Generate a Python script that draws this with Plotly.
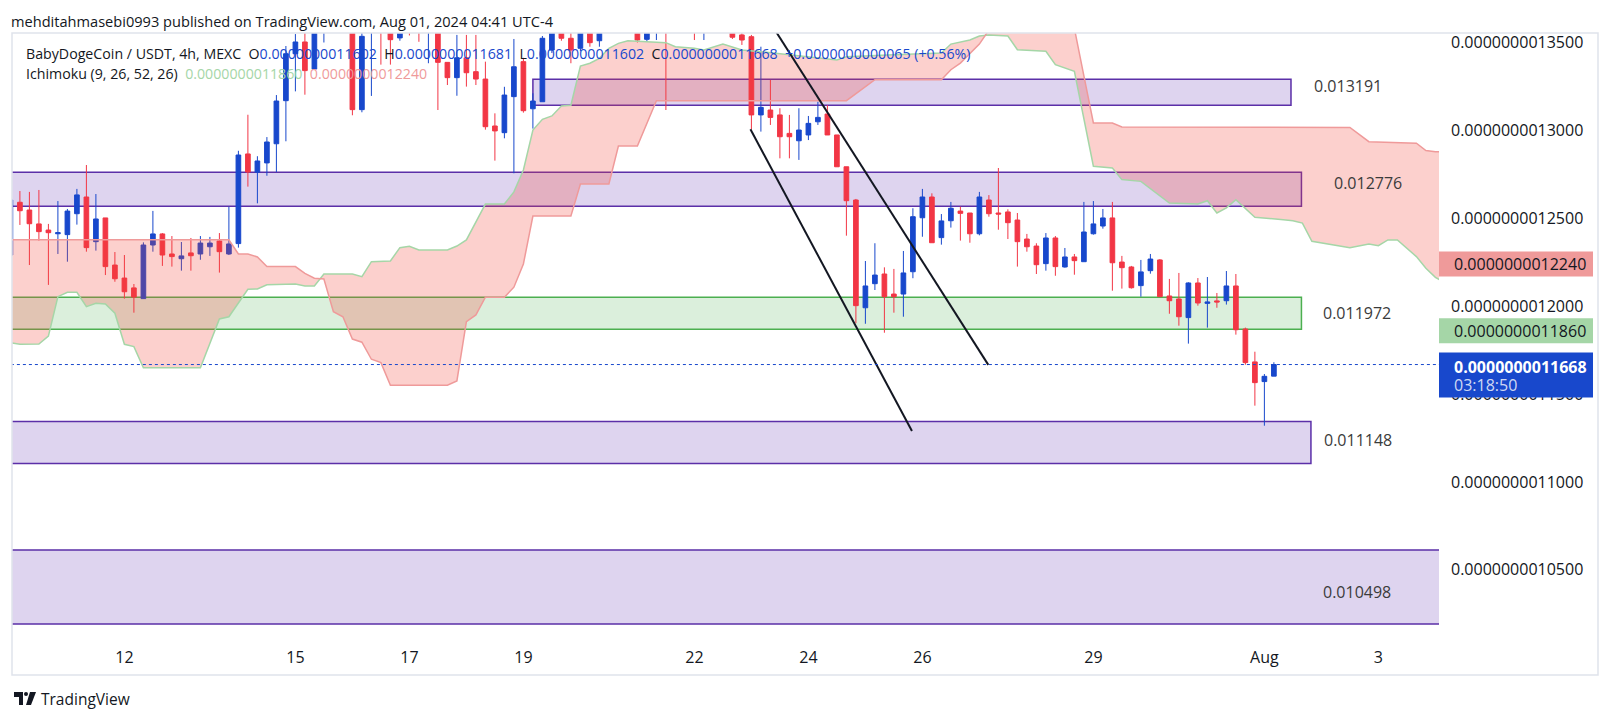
'''
    BabyDogeCoin / USDT 4h chart with Ichimoku cloud, zones and a falling channel.
'''
import pandas as pd
import plotly.graph_objects as go

# prices are kept in units of 1e-13 USDT, candles start Jul 10 2024 00:00 (4h each)
SCALE = 1e-13

opens = [12291, 12591, 12547, 12468, 12433, 12412, 12407, 12526, 12621, 12367,
         12502, 12234, 12160, 12104, 12043, 12348, 12411, 12297, 12270, 12303,
         12297, 12338, 12371, 12297, 12356, 12866, 12762, 12815, 12924, 13169,
         13436, 13503, 13349, 13580, 13650, 13720, 13600, 13118, 13600, 13690,
         13580, 13526, 13600, 13640, 13580, 13560, 13387, 13300, 13413, 13334,
         13292, 13025, 12987, 13192, 13391, 13123, 13163, 13457, 13600, 13524,
         13467, 13600, 13510, 13620, 13700, 13680, 13620, 13518, 13580, 13640,
         13600, 13650, 13700, 13620, 13660, 13700, 13640, 13543, 13533, 13088,
         13116, 13088, 12983, 12941, 12974, 13049, 13093, 12974, 12793, 12604,
         11991, 12128, 12183, 12069, 12069, 12196, 12503, 12621, 12390, 12486,
         12541, 12530, 12412, 12604, 12530, 12536, 12490, 12382, 12342, 12242,
         12388, 12223, 12280, 12253, 12412, 12456, 12502, 12251, 12223, 12117,
         12202, 12263, 12058, 12041, 11935, 12132, 12016, 12030, 12031, 12115,
         11870, 11683, 11571, 11602]
highs = [12615, 12655, 12650, 12661, 12468, 12598, 12553, 12667, 12803, 12638,
         12502, 12308, 12291, 12126, 12363, 12542, 12416, 12399, 12365, 12388,
         12399, 12394, 12416, 12566, 12884, 13089, 12853, 12962, 13201, 13480,
         13548, 13600, 13620, 13700, 13780, 13760, 13640, 13620, 13720, 13720,
         13620, 13600, 13620, 13660, 13660, 13580, 13387, 13543, 13543, 13543,
         13391, 13097, 13248, 13520, 13413, 13211, 13537, 13650, 13640, 13560,
         13660, 13630, 13650, 13760, 13780, 13720, 13650, 13630, 13660, 13680,
         13680, 13740, 13720, 13690, 13730, 13720, 13660, 13560, 13543, 13476,
         13287, 13126, 13088, 13126, 13082, 13163, 13144, 12974, 12793, 12610,
         12257, 12358, 12221, 12212, 12314, 12557, 12667, 12642, 12524, 12593,
         12566, 12530, 12650, 12632, 12786, 12551, 12530, 12411, 12358, 12416,
         12399, 12331, 12297, 12593, 12598, 12553, 12593, 12286, 12229, 12263,
         12297, 12268, 12155, 12189, 12136, 12160, 12166, 12075, 12200, 12183,
         11878, 11741, 11614, 11681]
lows = [12280, 12462, 12234, 12373, 12121, 12297, 12253, 12464, 12310, 12316,
        12177, 12139, 12043, 11963, 12043, 12310, 12229, 12225, 12202, 12202,
        12264, 12286, 12191, 12291, 12333, 12680, 12585, 12742, 12763, 12938,
        13222, 13203, 13346, 13500, 13600, 13560, 13086, 13103, 13196, 13374,
        13374, 13510, 13540, 13504, 13382, 13116, 13258, 13197, 13249, 13258,
        13004, 12828, 12955, 12756, 13101, 13010, 13163, 13440, 13510, 13382,
        13450, 13476, 13476, 13600, 13640, 13590, 13500, 13505, 13514, 13116,
        13555, 13620, 13514, 13514, 13630, 13610, 13520, 13486, 13006, 12993,
        13031, 12841, 12841, 12832, 12945, 13031, 12974, 12793, 12401, 11903,
        11900, 12092, 11849, 11963, 11940, 12159, 12395, 12361, 12350, 12447,
        12373, 12361, 12403, 12509, 12435, 12382, 12225, 12310, 12183, 12202,
        12173, 12219, 12179, 12253, 12407, 12441, 12088, 12100, 12100, 12054,
        12185, 12054, 11957, 11889, 11787, 12003, 11878, 11991, 12009, 11838,
        11667, 11434, 11320, 11602]
closes = [12604, 12543, 12469, 12424, 12418, 12418, 12541, 12633, 12333, 12496,
          12225, 12156, 12082, 12052, 12348, 12411, 12291, 12282, 12286, 12287,
          12359, 12359, 12310, 12354, 12860, 12763, 12826, 12934, 13167, 13436,
          13503, 13340, 13580, 13650, 13720, 13600, 13118, 13535, 13690, 13620,
          13516, 13580, 13560, 13590, 13640, 13387, 13300, 13413, 13328, 13292,
          13021, 12997, 13201, 13362, 13112, 13167, 13524, 13600, 13524, 13457,
          13620, 13499, 13620, 13700, 13680, 13620, 13514, 13600, 13640, 13600,
          13650, 13700, 13620, 13660, 13700, 13640, 13530, 13514, 13088, 13131,
          13074, 12964, 12964, 13002, 13040, 13074, 12974, 12793, 12600, 12003,
          12115, 12177, 12054, 12054, 12189, 12509, 12621, 12361, 12485, 12557,
          12528, 12412, 12621, 12526, 12524, 12475, 12367, 12338, 12236, 12388,
          12225, 12280, 12259, 12422, 12468, 12502, 12247, 12219, 12105, 12195,
          12268, 12054, 12031, 11940, 12132, 12018, 12024, 12024, 12115, 11866,
          11679, 11565, 11601, 11668]
last_change = 65
last_change_pct = 0.56

# Ichimoku leading spans (already shifted 26 bars forward), candle index -> value
span_a_idx = [-1, 1, 3, 4, 5, 6, 7, 8, 9, 10, 11, 12, 13, 14, 20, 21, 22, 23, 24, 25,
              26, 27, 30, 31, 32, 33, 36, 37, 38, 40, 41, 42, 43, 46, 47, 48, 50, 52, 53, 54,
              55, 56, 57, 58, 59, 60, 61, 62, 63, 64, 65, 69, 70, 72, 73, 75, 77, 79, 87, 88,
              93, 98, 99, 101, 102, 103, 105, 106, 109, 110, 112, 114, 116, 117, 119, 122, 125, 126, 127, 128,
              129, 131, 134, 135, 136, 137, 141, 143, 144, 145, 146, 147, 148, 149, 150, 152]
span_a_val = [11802, 11783, 11785, 11830, 12054, 12079, 12079, 11997, 12016, 12013, 11960, 11783, 11770, 11650, 11650, 11789, 11927, 11940, 12016, 12096,
              12098, 12122, 12126, 12115, 12115, 12183, 12183, 12168, 12253, 12257, 12333, 12341, 12320, 12320, 12342, 12377, 12581, 12581, 12650, 12775,
              13002, 13063, 13082, 13139, 13143, 13366, 13382, 13410, 13467, 13495, 13510, 13499, 13476, 13467, 13457, 13491, 13457, 13448, 13400, 13419,
              13430, 13440, 13491, 13514, 13537, 13543, 13537, 13459, 13450, 13374, 13336, 12796, 12786, 12720, 12710, 12587, 12581, 12600, 12530, 12559,
              12606, 12506, 12492, 12486, 12473, 12369, 12333, 12354, 12344, 12377, 12377, 12329, 12282, 12216, 12164, 12100]
span_b_idx = [-1, 23, 24, 25, 26, 27, 30, 31, 32, 33, 34, 35, 36, 37, 38, 39, 40, 46, 47, 48,
              49, 50, 52, 53, 54, 55, 59, 60, 63, 64, 66, 68, 88, 91, 98, 99, 100, 102, 103, 104,
              111, 112, 113, 114, 116, 117, 141, 143, 148, 149, 150, 152]
span_b_val = [12378, 12378, 12297, 12297, 12280, 12225, 12225, 12187, 12159, 12155, 11969, 11940, 11813, 11795, 11698, 11679, 11550, 11550, 11575, 11912,
              11950, 12051, 12051, 12108, 12240, 12513, 12513, 12695, 12695, 12911, 12911, 13169, 13169, 13288, 13288, 13345, 13383, 13491, 13571, 13650,
              13700, 13580, 13310, 13042, 13042, 13019, 13017, 12936, 12927, 12885, 12879, 12879]
span_a_now = 11860
span_b_now = 12240

# horizontal zones drawn on the chart
zone_top = [13291, 12762, 12051, 11344, 10613]
zone_bottom = [13143, 12568, 11869, 11105, 10192]
zone_start = [55, -20, -20, -20, -20]
zone_end = [134.8, 135.9, 135.9, 136.9, 170]
zone_kind = ['purple', 'purple', 'green', 'purple', 'purple']
zone_text = ['0.013191', '0.012776', '0.011972', '0.011148', '0.010498']
zone_text_idx = [140.8, 142.9, 141.8, 141.9, 141.7]
zone_text_val = [13252, 12702, 11964, 11239, 10374]

# falling channel
channel_upper_idx = [79.5, 102.94]
channel_upper_val = [13654, 11666]
channel_lower_idx = [77.9, 94.9]
channel_lower_val = [13006, 11290]

day_ticks = ['2024-07-10', '2024-07-12', '2024-07-15', '2024-07-17', '2024-07-19', '2024-07-22',
             '2024-07-24', '2024-07-26', '2024-07-29', '2024-08-01', '2024-08-03']
day_labels = ['10', '12', '15', '17', '19', '22', '24', '26', '29', 'Aug', '3']
price_ticks = [10500, 11000, 11500, 12000, 12500, 13000, 13500]
countdown = '03:18:50'

START = pd.Timestamp('2024-07-10 00:00')
STEP = pd.Timedelta(hours=4)

UP = '#1848CC'
DOWN = '#F23645'
TEXT = '#131722'
FONT = 'Open Sans'

# pixel box of the plot area inside the 1612x720 page
PX_L, PX_R, PX_T, PX_B = 12, 1439, 33, 640
Y_LO, Y_HI = 10101, 13554


def t(i):
    return START + STEP * i


def fmt(v):
    return f'{v * SCALE:.13f}'


def paper_x(px):
    return (px - PX_L) / (PX_R - PX_L)


def paper_y(py):
    return (PX_B - py) / (PX_B - PX_T)


def val_y(v):
    return (v - Y_LO) / (Y_HI - Y_LO)


def blue(s):
    return f'<span style="color:{UP}">{s}</span>'


fig = go.Figure()

# Ichimoku cloud
fig.add_trace(go.Scatter(
    x=[t(i) for i in span_a_idx], y=[v * SCALE for v in span_a_val],
    mode='lines', line=dict(color='#A5D6A7', width=1.5), hoverinfo='skip'))
fig.add_trace(go.Scatter(
    x=[t(i) for i in span_b_idx], y=[v * SCALE for v in span_b_val],
    mode='lines', line=dict(color='#EF9A9A', width=1.5), hoverinfo='skip',
    fill='tonexty', fillcolor='rgba(244,67,54,0.25)'))

fig.add_trace(go.Candlestick(
    x=[t(i) for i in range(len(opens))],
    open=[v * SCALE for v in opens], high=[v * SCALE for v in highs],
    low=[v * SCALE for v in lows], close=[v * SCALE for v in closes],
    increasing=dict(line=dict(color=UP, width=1), fillcolor=UP),
    decreasing=dict(line=dict(color=DOWN, width=1), fillcolor=DOWN),
    whiskerwidth=0, hoverinfo='skip'))

for idx, val in ((channel_upper_idx, channel_upper_val), (channel_lower_idx, channel_lower_val)):
    fig.add_trace(go.Scatter(
        x=[t(i) for i in idx], y=[v * SCALE for v in val],
        mode='lines', line=dict(color=TEXT, width=2), hoverinfo='skip'))

# last price dotted line
fig.add_trace(go.Scatter(
    x=[t(-5), t(170)], y=[closes[-1] * SCALE] * 2, mode='lines',
    line=dict(color=UP, width=1, dash='dot'), hoverinfo='skip'))

shapes = []
for k in range(len(zone_top)):
    if zone_kind[k] == 'green':
        fill, edge = 'rgba(76,175,80,0.2)', '#4CAF50'
    else:
        fill, edge = 'rgba(103,58,183,0.22)', '#5B2FA8'
    shapes.append(dict(
        type='rect', xref='x', yref='y', layer='below',
        x0=t(zone_start[k]), x1=t(zone_end[k]),
        y0=zone_bottom[k] * SCALE, y1=zone_top[k] * SCALE,
        fillcolor=fill, line=dict(color=edge, width=1.5)))

# price tags on the right axis
tag_x0, tag_x1 = paper_x(1439), paper_x(1593)
half = 12.5 / (PX_B - PX_T)
for v, color in ((span_b_now, '#EF9A9A'), (span_a_now, '#A5D6A7')):
    shapes.append(dict(type='rect', xref='paper', yref='paper', layer='above',
                       x0=tag_x0, x1=tag_x1, y0=val_y(v) - half, y1=val_y(v) + half,
                       fillcolor=color, line=dict(width=0)))
last_y = val_y(closes[-1])
shapes.append(dict(type='rect', xref='paper', yref='paper', layer='above',
                   x0=tag_x0, x1=tag_x1,
                   y0=last_y - 33 / (PX_B - PX_T), y1=last_y + 12 / (PX_B - PX_T),
                   fillcolor=UP, line=dict(width=0)))

# pane border
shapes.append(dict(type='rect', xref='paper', yref='paper', layer='above',
                   x0=paper_x(12), x1=paper_x(1598), y0=paper_y(675), y1=paper_y(33),
                   line=dict(color='#E0E3EB', width=1.5)))

# TradingView logo
shapes.append(dict(type='rect', xref='paper', yref='paper', layer='above',
                   x0=paper_x(14), x1=paper_x(23), y0=paper_y(697), y1=paper_y(692),
                   fillcolor=TEXT, line=dict(width=0)))
shapes.append(dict(type='rect', xref='paper', yref='paper', layer='above',
                   x0=paper_x(19), x1=paper_x(23), y0=paper_y(705), y1=paper_y(692),
                   fillcolor=TEXT, line=dict(width=0)))
shapes.append(dict(type='circle', xref='paper', yref='paper', layer='above',
                   x0=paper_x(24), x1=paper_x(28), y0=paper_y(696), y1=paper_y(692),
                   fillcolor=TEXT, line=dict(width=0)))
shapes.append(dict(type='path', xref='paper', yref='paper', layer='above',
                   path=(f'M {paper_x(30)} {paper_y(692)} L {paper_x(36)} {paper_y(692)} '
                         f'L {paper_x(31)} {paper_y(705)} L {paper_x(26)} {paper_y(705)} Z'),
                   fillcolor=TEXT, line=dict(width=0)))

annotations = []
for k in range(len(zone_text)):
    annotations.append(dict(
        x=t(zone_text_idx[k]), y=zone_text_val[k] * SCALE, xref='x', yref='y',
        text=zone_text[k], showarrow=False, xanchor='center', yanchor='middle',
        font=dict(family=FONT, size=16, color='#3B3B3B')))

for v in (span_b_now, span_a_now):
    annotations.append(dict(
        x=paper_x(1452), y=val_y(v), xref='paper', yref='paper', text=fmt(v),
        showarrow=False, xanchor='left', yanchor='middle',
        font=dict(family=FONT, size=16, color=TEXT)))
annotations.append(dict(
    x=paper_x(1452), y=paper_y(366.5), xref='paper', yref='paper',
    text=f'<b>{fmt(closes[-1])}</b>', showarrow=False, xanchor='left', yanchor='middle',
    font=dict(family=FONT, size=16, color='white')))
annotations.append(dict(
    x=paper_x(1452), y=paper_y(385.5), xref='paper', yref='paper',
    text=countdown, showarrow=False, xanchor='left', yanchor='middle',
    font=dict(family=FONT, size=16, color='rgba(255,255,255,0.8)')))

sp = '\u00a0\u00a0'
line1 = ('BabyDogeCoin / USDT, 4h, MEXC' + sp
         + 'O' + blue(fmt(opens[-1])) + sp
         + 'H' + blue(fmt(highs[-1])) + sp
         + 'L' + blue(fmt(lows[-1])) + sp
         + 'C' + blue(fmt(closes[-1])) + sp
         + blue(f'+{fmt(last_change)} (+{last_change_pct:.2f}%)'))
line2 = ('Ichimoku (9, 26, 52, 26)' + sp
         + f'<span style="color:#A5D6A7">{fmt(span_a_now)}</span>' + sp
         + f'<span style="color:#EF9A9A">{fmt(span_b_now)}</span>')
annotations.append(dict(x=paper_x(24), y=paper_y(53.5), xref='paper', yref='paper',
                        text=line1, showarrow=False, xanchor='left', yanchor='middle',
                        font=dict(family=FONT, size=14.2, color=TEXT)))
annotations.append(dict(x=paper_x(24), y=paper_y(74), xref='paper', yref='paper',
                        text=line2, showarrow=False, xanchor='left', yanchor='middle',
                        font=dict(family=FONT, size=14.2, color=TEXT)))

annotations.append(dict(
    x=paper_x(9), y=paper_y(20.5), xref='paper', yref='paper',
    text='mehditahmasebi0993 published on TradingView.com, Aug 01, 2024 04:41 UTC-4',
    showarrow=False, xanchor='left', yanchor='middle',
    font=dict(family=FONT, size=14.6, color=TEXT)))
annotations.append(dict(
    x=paper_x(39), y=paper_y(698.5), xref='paper', yref='paper', text='TradingView',
    showarrow=False, xanchor='left', yanchor='middle',
    font=dict(family=FONT, size=15.5, color=TEXT)))

fig.update_layout(
    width=1612, height=720,
    margin=dict(l=PX_L, r=1612 - PX_R, t=PX_T, b=720 - PX_B, autoexpand=False),
    paper_bgcolor='white', plot_bgcolor='white',
    showlegend=False,
    shapes=shapes, annotations=annotations,
    font=dict(family=FONT, color=TEXT),
    xaxis=dict(
        type='date', range=[t(0.168), t(150.38)],
        tickvals=day_ticks, ticktext=day_labels,
        showgrid=False, zeroline=False, showline=False, ticks='',
        ticklabelstandoff=6,
        tickfont=dict(family=FONT, size=16, color=TEXT),
        rangeslider=dict(visible=False)),
    yaxis=dict(
        side='right', range=[Y_LO * SCALE, Y_HI * SCALE],
        tickvals=[v * SCALE for v in price_ticks], tickformat='.13f',
        showgrid=False, zeroline=False, showline=False, ticks='',
        ticklabelstandoff=11,
        tickfont=dict(family=FONT, size=16, color=TEXT)),
)

# the page body has a default 8px margin; drop it so the figure fills the window
fig.write_html('out.html', config={'displayModeBar': False},
               post_script="document.body.style.margin='0px';")
